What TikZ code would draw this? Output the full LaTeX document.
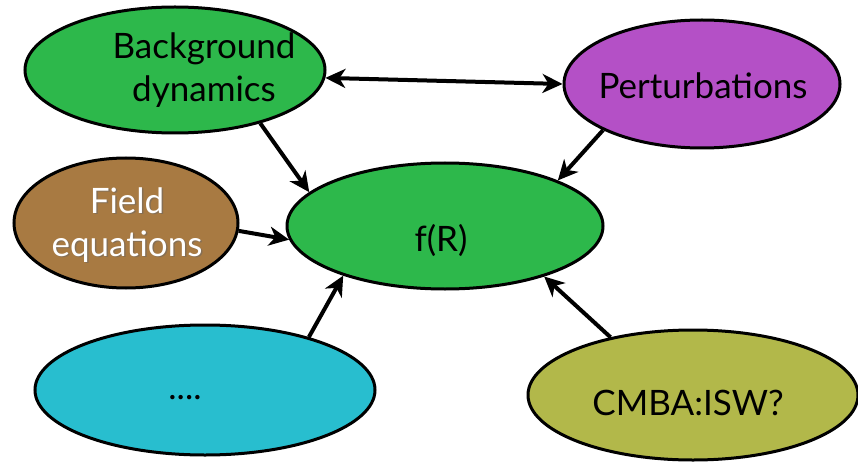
\documentclass[tikz,border=0pt]{standalone}
\usepackage{fontspec}
\setmainfont{Lato}
\usetikzlibrary{shapes.geometric,arrows.meta}
\definecolor{cgreen}{RGB}{45,184,75}
\definecolor{cpurple}{RGB}{180,80,198}
\definecolor{cbrown}{RGB}{168,122,66}
\definecolor{ccyan}{RGB}{40,190,207}
\definecolor{colive}{RGB}{178,184,74}
\tikzset{
  blob/.style={ellipse, draw=black, line width=3pt, inner sep=0pt},
  lbl/.style={align=center, inner sep=0pt, font=\fontsize{35}{43}\selectfont},
  conn/.style={line width=4pt, -{Stealth[length=20pt,width=19pt,inset=6pt]}},
  dconn/.style={line width=4pt, {Stealth[length=20pt,width=19pt,inset=6pt]}-{Stealth[length=20pt,width=19pt,inset=6pt]}}
}
\begin{document}
\begin{tikzpicture}[x=1pt,y=-1pt]
\useasboundingbox (0,0) rectangle (858,465);
\node[blob, fill=cgreen, minimum width=300pt, minimum height=126pt] (bd) at (175,70) {};
\node[blob, fill=cpurple, minimum width=276pt, minimum height=128pt] (pt) at (702,84) {};
\node[blob, fill=cbrown, minimum width=224pt, minimum height=130pt] (fe) at (126,223) {};
\node[blob, fill=cgreen, minimum width=316pt, minimum height=126pt] (fr) at (445,226) {};
\node[blob, fill=ccyan, minimum width=340pt, minimum height=130pt] (dd) at (205,390) {};
\node[blob, fill=colive, minimum width=330pt, minimum height=130pt] (cm) at (693,395) {};
\node[lbl] (bdt) at (204,70) {Background\\dynamics};
\node[lbl] (ptt) at (703,86) {Perturbations};
\node[lbl, text=black!60, opacity=0.5] (fes) at (128.5,226.5) {Field\\equations};
\node[lbl, text=white] (fet) at (127,225) {Field\\equations};
\node[lbl] (frt) at (441,240) {f(R)};
\node[lbl] (ddt) at (185,398) {....};
\node[lbl] (cmt) at (688,403) {CMBA:ISW?};
\draw[dconn] (bd.-3) -- (pt.180);
\draw[conn] (bd.-32.6) -- (fr.166.7);
\draw[conn] (pt.-155) -- (fr.22.4);
\draw[conn] (fe.-4.6) -- (fr.185);
\draw[conn] (dd.27) -- (fr.206.6);
\draw[conn] (cm.145) -- (fr.-27.4);
\end{tikzpicture}
\end{document}
